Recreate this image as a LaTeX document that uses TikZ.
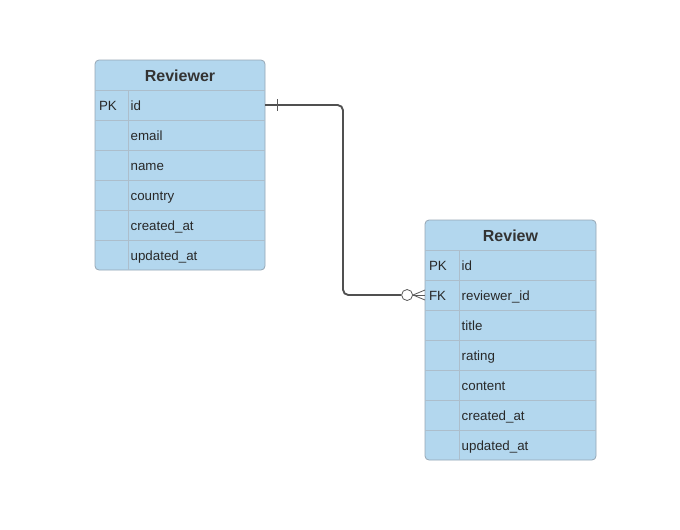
\documentclass[tikz,border=0pt]{standalone}
\usepackage{fontspec}
\setmainfont{Liberation Sans}
\usetikzlibrary{positioning}

\begin{document}
\begin{tikzpicture}[x = 0.75pt, y = -0.75pt]
\tikzstyle{TableStyle} = [draw = {rgb,255:red,150; green,166; blue,180}, fill = {rgb,255:red,179; green,215; blue,238}, rounded corners = 3pt, line width = 0.6pt]
\tikzstyle{GridStyle} = [draw = {rgb,255:red,172; green,190; blue,204}, line width = 0.6pt]
\tikzstyle{TitleStyle} = [inner sep = 0pt, font = \bfseries\fontsize{12}{14}\selectfont, text = {rgb,255:red,51; green,51; blue,51}]
\tikzstyle{CellStyle} = [outer sep = 0pt, inner ysep = 0pt, minimum height = 22.5pt, text height = 8.5pt, text depth = 0.5pt, align = left, font = \fontsize{10}{12}\selectfont, text = {rgb,255:red,40; green,40; blue,40}]
\tikzstyle{KeyStyle} = [CellStyle, inner xsep = 3pt, text width = 18.75pt]
\tikzstyle{FieldStyle} = [CellStyle, inner xsep = 2pt, text width = 98.75pt]
\tikzstyle{RelStyle} = [draw = {rgb,255:red,80; green,80; blue,80}, line width = 1.4pt]
\tikzstyle{MarkStyle} = [draw = {rgb,255:red,90; green,90; blue,90}, line width = 0.6pt]

\useasboundingbox (0,0) rectangle (680,529);

\path[TableStyle] (95,60) rectangle (265,270);
\draw[GridStyle] (95,90) -- (265,90);
\draw[GridStyle] (95,120) -- (265,120);
\draw[GridStyle] (95,150) -- (265,150);
\draw[GridStyle] (95,180) -- (265,180);
\draw[GridStyle] (95,210) -- (265,210);
\draw[GridStyle] (95,240) -- (265,240);
\draw[GridStyle] (128,90) -- (128,270);
\node[TitleStyle] (rvTitle) at (180,76) {Reviewer};
\node[KeyStyle, anchor = west] (rvk1) at (95,105) {PK};
\node[FieldStyle, anchor = west] (rvf1) at (128,105) {id};
\node[FieldStyle, anchor = west] (rvf2) at (128,135) {email};
\node[FieldStyle, anchor = west] (rvf3) at (128,165) {name};
\node[FieldStyle, anchor = west] (rvf4) at (128,195) {country};
\node[FieldStyle, anchor = west] (rvf5) at (128,225) {created\_at};
\node[FieldStyle, anchor = west] (rvf6) at (128,255) {updated\_at};

\path[TableStyle] (425,220) rectangle (596,460);
\draw[GridStyle] (425,250) -- (596,250);
\draw[GridStyle] (425,280) -- (596,280);
\draw[GridStyle] (425,310) -- (596,310);
\draw[GridStyle] (425,340) -- (596,340);
\draw[GridStyle] (425,370) -- (596,370);
\draw[GridStyle] (425,400) -- (596,400);
\draw[GridStyle] (425,430) -- (596,430);
\draw[GridStyle] (459,250) -- (459,460);
\node[TitleStyle] (rwTitle) at (510.5,236) {Review};
\node[KeyStyle, anchor = west, text width = 19.5pt] (rwk1) at (425,265) {PK};
\node[KeyStyle, anchor = west, text width = 19.5pt] (rwk2) at (425,295) {FK};
\node[FieldStyle, anchor = west] (rwf1) at (459,265) {id};
\node[FieldStyle, anchor = west] (rwf2) at (459,295) {reviewer\_id};
\node[FieldStyle, anchor = west] (rwf3) at (459,325) {title};
\node[FieldStyle, anchor = west] (rwf4) at (459,355) {rating};
\node[FieldStyle, anchor = west] (rwf5) at (459,385) {content};
\node[FieldStyle, anchor = west] (rwf6) at (459,415) {created\_at};
\node[FieldStyle, anchor = west] (rwf7) at (459,445) {updated\_at};

\coordinate (bend) at (343,200);
\node[MarkStyle, circle, fill = white, minimum size = 8.25pt, inner sep = 0pt, left = 9pt of rwk2.west] (zeroMark) {};
\draw[RelStyle, rounded corners = 4pt] (rvf1.east) -| (bend) |- (zeroMark.west);
\draw[MarkStyle] ([xshift = 9pt]rvf1.east) ++(0,-6) -- ++(0,12);
\draw[MarkStyle] (zeroMark.east) -- ([yshift = 3.75pt]rwk2.west);
\draw[MarkStyle] (zeroMark.east) -- (rwk2.west);
\draw[MarkStyle] (zeroMark.east) -- ([yshift = -3.75pt]rwk2.west);
\end{tikzpicture}
\end{document}
